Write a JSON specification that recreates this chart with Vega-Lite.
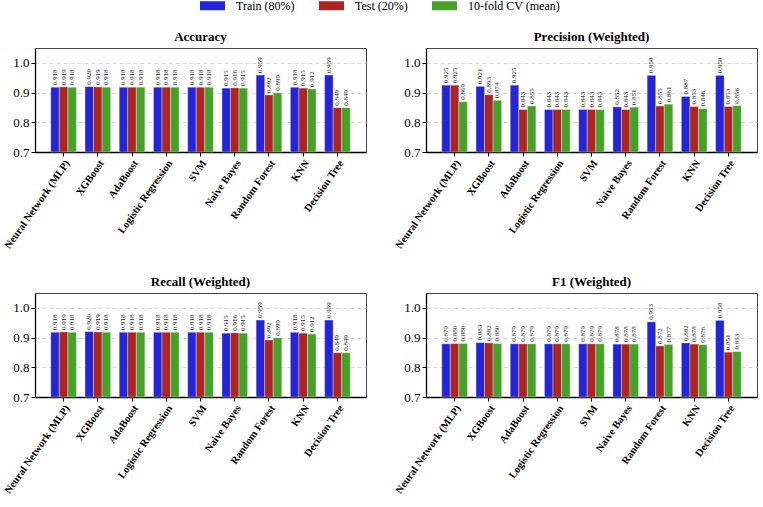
{
  "$schema": "https://vega.github.io/schema/vega-lite/v6.json",
  "padding": {"left": 2, "top": -7, "right": 2, "bottom": 2},
  "background": "white",
  "data": {"values": [
    {"metric":"Accuracy","model":"Neural Network (MLP)","split":"Train (80%)","value":0.918},
    {"metric":"Accuracy","model":"Neural Network (MLP)","split":"Test (20%)","value":0.919},
    {"metric":"Accuracy","model":"Neural Network (MLP)","split":"10-fold CV (mean)","value":0.918},
    {"metric":"Accuracy","model":"XGBoost","split":"Train (80%)","value":0.920},
    {"metric":"Accuracy","model":"XGBoost","split":"Test (20%)","value":0.919},
    {"metric":"Accuracy","model":"XGBoost","split":"10-fold CV (mean)","value":0.918},
    {"metric":"Accuracy","model":"AdaBoost","split":"Train (80%)","value":0.918},
    {"metric":"Accuracy","model":"AdaBoost","split":"Test (20%)","value":0.918},
    {"metric":"Accuracy","model":"AdaBoost","split":"10-fold CV (mean)","value":0.918},
    {"metric":"Accuracy","model":"Logistic Regression","split":"Train (80%)","value":0.918},
    {"metric":"Accuracy","model":"Logistic Regression","split":"Test (20%)","value":0.918},
    {"metric":"Accuracy","model":"Logistic Regression","split":"10-fold CV (mean)","value":0.918},
    {"metric":"Accuracy","model":"SVM","split":"Train (80%)","value":0.918},
    {"metric":"Accuracy","model":"SVM","split":"Test (20%)","value":0.918},
    {"metric":"Accuracy","model":"SVM","split":"10-fold CV (mean)","value":0.918},
    {"metric":"Accuracy","model":"Naive Bayes","split":"Train (80%)","value":0.915},
    {"metric":"Accuracy","model":"Naive Bayes","split":"Test (20%)","value":0.916},
    {"metric":"Accuracy","model":"Naive Bayes","split":"10-fold CV (mean)","value":0.915},
    {"metric":"Accuracy","model":"Random Forest","split":"Train (80%)","value":0.959},
    {"metric":"Accuracy","model":"Random Forest","split":"Test (20%)","value":0.892},
    {"metric":"Accuracy","model":"Random Forest","split":"10-fold CV (mean)","value":0.899},
    {"metric":"Accuracy","model":"KNN","split":"Train (80%)","value":0.918},
    {"metric":"Accuracy","model":"KNN","split":"Test (20%)","value":0.915},
    {"metric":"Accuracy","model":"KNN","split":"10-fold CV (mean)","value":0.912},
    {"metric":"Accuracy","model":"Decision Tree","split":"Train (80%)","value":0.959},
    {"metric":"Accuracy","model":"Decision Tree","split":"Test (20%)","value":0.849},
    {"metric":"Accuracy","model":"Decision Tree","split":"10-fold CV (mean)","value":0.849},

    {"metric":"Precision (Weighted)","model":"Neural Network (MLP)","split":"Train (80%)","value":0.925},
    {"metric":"Precision (Weighted)","model":"Neural Network (MLP)","split":"Test (20%)","value":0.925},
    {"metric":"Precision (Weighted)","model":"Neural Network (MLP)","split":"10-fold CV (mean)","value":0.869},
    {"metric":"Precision (Weighted)","model":"XGBoost","split":"Train (80%)","value":0.921},
    {"metric":"Precision (Weighted)","model":"XGBoost","split":"Test (20%)","value":0.893},
    {"metric":"Precision (Weighted)","model":"XGBoost","split":"10-fold CV (mean)","value":0.874},
    {"metric":"Precision (Weighted)","model":"AdaBoost","split":"Train (80%)","value":0.925},
    {"metric":"Precision (Weighted)","model":"AdaBoost","split":"Test (20%)","value":0.843},
    {"metric":"Precision (Weighted)","model":"AdaBoost","split":"10-fold CV (mean)","value":0.855},
    {"metric":"Precision (Weighted)","model":"Logistic Regression","split":"Train (80%)","value":0.843},
    {"metric":"Precision (Weighted)","model":"Logistic Regression","split":"Test (20%)","value":0.843},
    {"metric":"Precision (Weighted)","model":"Logistic Regression","split":"10-fold CV (mean)","value":0.843},
    {"metric":"Precision (Weighted)","model":"SVM","split":"Train (80%)","value":0.843},
    {"metric":"Precision (Weighted)","model":"SVM","split":"Test (20%)","value":0.843},
    {"metric":"Precision (Weighted)","model":"SVM","split":"10-fold CV (mean)","value":0.843},
    {"metric":"Precision (Weighted)","model":"Naive Bayes","split":"Train (80%)","value":0.852},
    {"metric":"Precision (Weighted)","model":"Naive Bayes","split":"Test (20%)","value":0.843},
    {"metric":"Precision (Weighted)","model":"Naive Bayes","split":"10-fold CV (mean)","value":0.851},
    {"metric":"Precision (Weighted)","model":"Random Forest","split":"Train (80%)","value":0.958},
    {"metric":"Precision (Weighted)","model":"Random Forest","split":"Test (20%)","value":0.855},
    {"metric":"Precision (Weighted)","model":"Random Forest","split":"10-fold CV (mean)","value":0.861},
    {"metric":"Precision (Weighted)","model":"KNN","split":"Train (80%)","value":0.887},
    {"metric":"Precision (Weighted)","model":"KNN","split":"Test (20%)","value":0.853},
    {"metric":"Precision (Weighted)","model":"KNN","split":"10-fold CV (mean)","value":0.846},
    {"metric":"Precision (Weighted)","model":"Decision Tree","split":"Train (80%)","value":0.958},
    {"metric":"Precision (Weighted)","model":"Decision Tree","split":"Test (20%)","value":0.853},
    {"metric":"Precision (Weighted)","model":"Decision Tree","split":"10-fold CV (mean)","value":0.856},

    {"metric":"Recall (Weighted)","model":"Neural Network (MLP)","split":"Train (80%)","value":0.918},
    {"metric":"Recall (Weighted)","model":"Neural Network (MLP)","split":"Test (20%)","value":0.919},
    {"metric":"Recall (Weighted)","model":"Neural Network (MLP)","split":"10-fold CV (mean)","value":0.918},
    {"metric":"Recall (Weighted)","model":"XGBoost","split":"Train (80%)","value":0.920},
    {"metric":"Recall (Weighted)","model":"XGBoost","split":"Test (20%)","value":0.919},
    {"metric":"Recall (Weighted)","model":"XGBoost","split":"10-fold CV (mean)","value":0.918},
    {"metric":"Recall (Weighted)","model":"AdaBoost","split":"Train (80%)","value":0.918},
    {"metric":"Recall (Weighted)","model":"AdaBoost","split":"Test (20%)","value":0.918},
    {"metric":"Recall (Weighted)","model":"AdaBoost","split":"10-fold CV (mean)","value":0.918},
    {"metric":"Recall (Weighted)","model":"Logistic Regression","split":"Train (80%)","value":0.918},
    {"metric":"Recall (Weighted)","model":"Logistic Regression","split":"Test (20%)","value":0.918},
    {"metric":"Recall (Weighted)","model":"Logistic Regression","split":"10-fold CV (mean)","value":0.918},
    {"metric":"Recall (Weighted)","model":"SVM","split":"Train (80%)","value":0.918},
    {"metric":"Recall (Weighted)","model":"SVM","split":"Test (20%)","value":0.918},
    {"metric":"Recall (Weighted)","model":"SVM","split":"10-fold CV (mean)","value":0.918},
    {"metric":"Recall (Weighted)","model":"Naive Bayes","split":"Train (80%)","value":0.915},
    {"metric":"Recall (Weighted)","model":"Naive Bayes","split":"Test (20%)","value":0.916},
    {"metric":"Recall (Weighted)","model":"Naive Bayes","split":"10-fold CV (mean)","value":0.915},
    {"metric":"Recall (Weighted)","model":"Random Forest","split":"Train (80%)","value":0.959},
    {"metric":"Recall (Weighted)","model":"Random Forest","split":"Test (20%)","value":0.892},
    {"metric":"Recall (Weighted)","model":"Random Forest","split":"10-fold CV (mean)","value":0.899},
    {"metric":"Recall (Weighted)","model":"KNN","split":"Train (80%)","value":0.918},
    {"metric":"Recall (Weighted)","model":"KNN","split":"Test (20%)","value":0.915},
    {"metric":"Recall (Weighted)","model":"KNN","split":"10-fold CV (mean)","value":0.912},
    {"metric":"Recall (Weighted)","model":"Decision Tree","split":"Train (80%)","value":0.959},
    {"metric":"Recall (Weighted)","model":"Decision Tree","split":"Test (20%)","value":0.849},
    {"metric":"Recall (Weighted)","model":"Decision Tree","split":"10-fold CV (mean)","value":0.849},

    {"metric":"F1 (Weighted)","model":"Neural Network (MLP)","split":"Train (80%)","value":0.879},
    {"metric":"F1 (Weighted)","model":"Neural Network (MLP)","split":"Test (20%)","value":0.880},
    {"metric":"F1 (Weighted)","model":"Neural Network (MLP)","split":"10-fold CV (mean)","value":0.880},
    {"metric":"F1 (Weighted)","model":"XGBoost","split":"Train (80%)","value":0.883},
    {"metric":"F1 (Weighted)","model":"XGBoost","split":"Test (20%)","value":0.882},
    {"metric":"F1 (Weighted)","model":"XGBoost","split":"10-fold CV (mean)","value":0.880},
    {"metric":"F1 (Weighted)","model":"AdaBoost","split":"Train (80%)","value":0.879},
    {"metric":"F1 (Weighted)","model":"AdaBoost","split":"Test (20%)","value":0.879},
    {"metric":"F1 (Weighted)","model":"AdaBoost","split":"10-fold CV (mean)","value":0.879},
    {"metric":"F1 (Weighted)","model":"Logistic Regression","split":"Train (80%)","value":0.879},
    {"metric":"F1 (Weighted)","model":"Logistic Regression","split":"Test (20%)","value":0.879},
    {"metric":"F1 (Weighted)","model":"Logistic Regression","split":"10-fold CV (mean)","value":0.879},
    {"metric":"F1 (Weighted)","model":"SVM","split":"Train (80%)","value":0.879},
    {"metric":"F1 (Weighted)","model":"SVM","split":"Test (20%)","value":0.879},
    {"metric":"F1 (Weighted)","model":"SVM","split":"10-fold CV (mean)","value":0.879},
    {"metric":"F1 (Weighted)","model":"Naive Bayes","split":"Train (80%)","value":0.878},
    {"metric":"F1 (Weighted)","model":"Naive Bayes","split":"Test (20%)","value":0.878},
    {"metric":"F1 (Weighted)","model":"Naive Bayes","split":"10-fold CV (mean)","value":0.878},
    {"metric":"F1 (Weighted)","model":"Random Forest","split":"Train (80%)","value":0.953},
    {"metric":"F1 (Weighted)","model":"Random Forest","split":"Test (20%)","value":0.872},
    {"metric":"F1 (Weighted)","model":"Random Forest","split":"10-fold CV (mean)","value":0.877},
    {"metric":"F1 (Weighted)","model":"KNN","split":"Train (80%)","value":0.882},
    {"metric":"F1 (Weighted)","model":"KNN","split":"Test (20%)","value":0.878},
    {"metric":"F1 (Weighted)","model":"KNN","split":"10-fold CV (mean)","value":0.876},
    {"metric":"F1 (Weighted)","model":"Decision Tree","split":"Train (80%)","value":0.958},
    {"metric":"F1 (Weighted)","model":"Decision Tree","split":"Test (20%)","value":0.851},
    {"metric":"F1 (Weighted)","model":"Decision Tree","split":"10-fold CV (mean)","value":0.853}
  ]},
  "facet": {
    "field": "metric",
    "type": "nominal",
    "sort": ["Accuracy", "Precision (Weighted)", "Recall (Weighted)", "F1 (Weighted)"],
    "header": {"title": null, "labelFont": "Liberation Serif", "labelFontSize": 13, "labelFontWeight": "bold", "labelColor": "black", "labelPadding": 4}
  },
  "columns": 2,
  "bounds": "flush",
  "spacing": {"column": 60, "row": 141},
  "resolve": {"axis": {"x": "independent", "y": "independent"}},
  "spec": {
    "width": 331,
    "height": 104,
    "encoding": {
      "x": {
        "field": "model", "type": "nominal", "sort": null, "title": null,
        "scale": {"paddingInner": 0.25, "paddingOuter": 0.46},
        "axis": {"labelAngle": -55, "labelAlign": "right", "labelBaseline": "top", "labelFont": "Liberation Serif", "labelFontSize": 10.5, "labelFontWeight": "bold", "labelColor": "black", "tickColor": "black", "tickSize": 4, "domainColor": "black", "domainWidth": 1.3, "labelPadding": 2, "labelLimit": 200}
      },
      "xOffset": {"field": "split", "type": "nominal", "sort": ["Train (80%)", "Test (20%)", "10-fold CV (mean)"], "scale": {"paddingInner": 0, "paddingOuter": 0}},
      "y": {
        "field": "value", "type": "quantitative", "title": null,
        "scale": {"domain": [0.7, 1.05], "zero": false, "nice": false, "clamp": true},
        "axis": {"values": [0.7, 0.8, 0.9, 1.0], "format": ".1f", "labelFont": "Liberation Serif", "labelFontSize": 13, "labelColor": "black", "tickColor": "black", "tickSize": 4, "domainColor": "black", "domainWidth": 1.3, "grid": true, "gridColor": "#cccccc", "gridDash": [4, 3], "gridWidth": 0.8, "labelPadding": 2}
      }
    },
    "layer": [
      {
        "mark": {"type": "bar", "stroke": "white", "strokeWidth": 0.5, "strokeOpacity": 0.7},
        "encoding": {
          "y2": {"datum": 0.7},
          "color": {
            "field": "split", "type": "nominal", "title": null,
            "sort": ["Train (80%)", "Test (20%)", "10-fold CV (mean)"],
            "scale": {"domain": ["Train (80%)", "Test (20%)", "10-fold CV (mean)"], "range": ["#2525d6", "#ab2525", "#46a02a"]},
            "legend": {"orient": "top", "direction": "horizontal", "padding": 0, "symbolType": "M-1,-0.36H1V0.36H-1Z", "symbolSize": 625, "symbolStrokeWidth": 0, "symbolOpacity": 1, "labelFont": "Liberation Serif", "labelFontSize": 12, "labelColor": "black", "labelOffset": 11, "columnPadding": 24, "offset": 18}
          }
        }
      },
      {
        "mark": {"type": "text", "angle": 270, "align": "left", "baseline": "middle", "dx": 2, "font": "Liberation Serif", "fontSize": 7, "color": "#222222"},
        "encoding": {
          "text": {"field": "value", "type": "quantitative", "format": ".3f"}
        }
      }
    ]
  },
  "config": {
    "view": {"stroke": "#444444", "strokeWidth": 1},
    "legend": {"layout": {"top": {"anchor": "middle"}}}
  }
}
